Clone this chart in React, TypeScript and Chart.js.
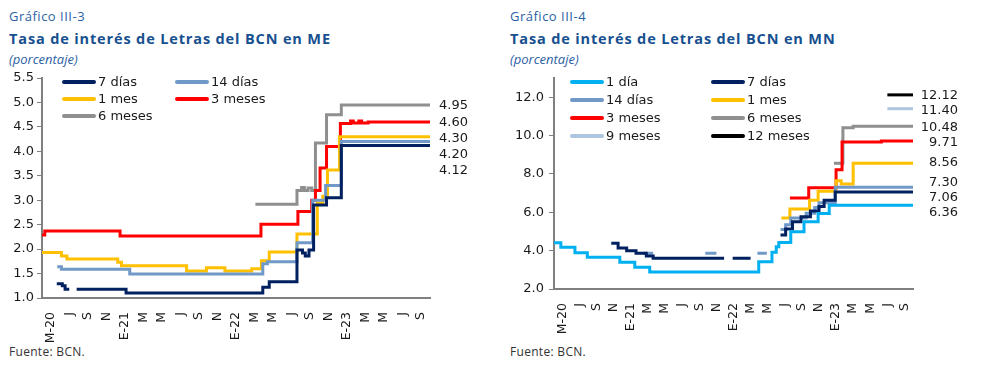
import React, { useEffect, useRef } from 'react';
import { Chart, registerables } from 'chart.js';

Chart.register(...registerables);

type Step = [number, number | null];

// Horizontal axis: months counted from April 2020 (0 = Apr-20 ... 42 = Oct-23)
const xMin = 0;
const xMax = 42;
const xTickMonths = [1, 3, 5, 7, 9, 11, 13, 15, 17, 19, 21, 23, 25, 27, 29, 31, 33, 35, 37, 39, 41];
const xTickLabels = ['M-20', 'J', 'S', 'N', 'E-21', 'M', 'M', 'J', 'S', 'N', 'E-22', 'M', 'M', 'J', 'S', 'N', 'E-23', 'M', 'M', 'J', 'S'];

// ---------- Gráfico III-3 (ME) ----------
const meLabels = ['7 días', '14 días', '1 mes', '3 meses', '6 meses'];
const meYTicks = [1.0, 1.5, 2.0, 2.5, 3.0, 3.5, 4.0, 4.5, 5.0, 5.5];
// [month, value] — value holds until next point; null ends a run
const me7Dias: Step[] = [[1.6, 1.29], [2.2, 1.25], [2.5, 1.18], [2.95, null], [3.75, 1.18], [9.1, 1.1], [23.9, 1.22], [24.6, 1.33], [27.6, 1.98], [28.2, 1.92], [28.5, 1.86], [28.9, 1.98], [29.4, 2.9], [30.8, 3.05], [32.4, 4.12], [42, null]];
const me14Dias: Step[] = [[1.65, 1.64], [2.1, 1.59], [9.5, 1.49], [23.9, 1.7], [24.4, 1.74], [27.6, 2.13], [29.3, 3.0], [30.7, 3.3], [32.4, 4.2], [42, null]];
const me1Mes: Step[] = [[0, 1.93], [2.1, 1.86], [2.7, 1.8], [8.2, 1.73], [8.6, 1.66], [15.65, 1.55], [17.8, 1.62], [19.8, 1.55], [22.7, 1.6], [23.75, 1.76], [24.6, 1.94], [27.6, 2.31], [29.8, 2.95], [30.4, 3.08], [30.9, 3.62], [32.2, 4.3], [42, null]];
const me3Meses: Step[] = [[0, 2.29], [0.3, 2.37], [8.45, 2.27], [23.7, 2.51], [27.7, 2.77], [29.2, 3.0], [29.6, 3.2], [30.1, 3.66], [30.8, 4.1], [32.3, 4.57], [33.4, 4.62], [33.7, 4.58], [34.3, 4.62], [34.6, 4.58], [35.3, 4.6], [42, null]];
const me6Meses: Step[] = [[23.1, 2.92], [27.6, 3.2], [28.1, 3.26], [28.4, 3.2], [28.8, 3.25], [29.2, 3.2], [29.6, 4.17], [30.8, 4.75], [32.4, 4.95], [42, null]];

// ---------- Gráfico III-4 (MN) ----------
const mnLabels = ['1 día', '7 días', '14 días', '1 mes', '3 meses', '6 meses', '9 meses', '12 meses'];
const mnYTicks = [2, 4, 6, 8, 10, 12];
const mn1Dia: Step[] = [[0, 4.41], [0.8, 4.18], [2.45, 3.89], [3.9, 3.65], [7.7, 3.39], [9.45, 3.14], [11.2, 2.88], [23.95, 3.42], [25.5, 3.92], [26.0, 4.2], [26.3, 4.42], [27.7, 4.98], [29.25, 5.5], [30.9, 5.94], [32.2, 6.36], [42, null]];
const mn7Dias: Step[] = [[6.7, 4.38], [7.5, 4.14], [8.5, 4.0], [9.6, 3.86], [10.8, 3.72], [11.6, 3.6], [19.9, null], [20.9, 3.6], [23.0, null], [26.5, 4.81], [27.1, 5.13], [27.9, 5.5], [28.9, 5.77], [30.0, 6.06], [31.0, 6.3], [31.6, 6.63], [32.9, 7.06], [42, null]];
const mn14Dias: Step[] = [[10.4, 3.86], [11.6, null], [17.7, 3.86], [19.0, null], [23.8, 3.86], [24.9, null], [26.5, 5.1], [27.1, 5.35], [27.7, 5.7], [29.5, 5.95], [30.5, 6.25], [31.0, 6.5], [32.9, 7.3], [42, null]];
const mn1Mes: Step[] = [[26.6, 5.7], [27.6, 6.17], [29.9, 6.63], [30.9, 7.1], [33.0, 7.64], [33.6, 7.47], [35.0, 8.56], [42, null]];
const mn3Meses: Step[] = [[27.6, 6.75], [29.8, 7.28], [33.0, 8.22], [33.7, 9.67], [38.3, 9.71], [42, null]];
const mn6Meses: Step[] = [[32.75, 8.55], [33.8, 10.4], [35.0, 10.48], [42, null]];
const mn9Meses: Step[] = [[39.0, 11.4], [42, null]];
const mn12Meses: Step[] = [[39.0, 12.12], [42, null]];

const C_NAVY = '#002060';
const C_STEEL = '#7099C8';
const C_YELLOW = '#FFC000';
const C_RED = '#FF0000';
const C_GRAY = '#8F8F8F';
const C_CYAN = '#00B0F0';
const C_PALE = '#AEC5E0';
const C_BLACK = '#000000';

const FONT = "'DejaVu Sans', Verdana, sans-serif";
const TXT = "'Open Sans', 'Noto Sans', sans-serif";

function toPoints(steps: Step[]) {
  const pts: { x: number; y: number | null }[] = [];
  let prev: number | null = null;
  for (const [x, y] of steps) {
    if (y === null) {
      if (prev !== null) pts.push({ x, y: prev });
      pts.push({ x, y: null });
      prev = null;
    } else {
      pts.push({ x, y });
      prev = y;
    }
  }
  return pts;
}

function lastValue(steps: Step[]) {
  for (let i = steps.length - 1; i >= 0; i--) if (steps[i][1] !== null) return steps[i][1] as number;
  return 0;
}

interface ChartCfg {
  left: number;
  top: number;
  width: number;
  height: number;
  padding: { left: number; right: number; top: number; bottom: number };
  yWidth: number;
  yMin: number;
  yMax: number;
  yTicks: number[];
  yLabelPad: number;
  series: { label: string; color: string; steps: Step[] }[];
  legendCols: number[];
  legendRowGap: number;
  labelGap: number;
  labelMode: 'down' | 'spread';
  labelOffset: number;
}

function StepChart({ cfg }: { cfg: ChartCfg }) {
  const ref = useRef<HTMLCanvasElement>(null);
  useEffect(() => {
    const legendPlugin = {
      id: 'stepLegend',
      afterDraw(chart: any) {
        const { ctx, chartArea } = chart;
        ctx.save();
        ctx.font = `13px ${FONT}`;
        ctx.textBaseline = 'middle';
        ctx.textAlign = 'left';
        chart.data.datasets.forEach((ds: any, i: number) => {
          const col = i % 2;
          const row = Math.floor(i / 2);
          const x = chartArea.left + cfg.legendCols[col];
          const y = chartArea.top + 4 + row * cfg.legendRowGap;
          ctx.strokeStyle = ds.borderColor;
          ctx.lineWidth = 4;
          ctx.lineCap = 'round';
          ctx.beginPath();
          ctx.moveTo(x + 2, y);
          ctx.lineTo(x + 32, y);
          ctx.stroke();
          ctx.fillStyle = '#1a1a1a';
          ctx.fillText(ds.label, x + 36, y + 1);
        });
        ctx.restore();
      },
    };
    const endLabelPlugin = {
      id: 'endLabels',
      afterDatasetsDraw(chart: any) {
        const { ctx, chartArea } = chart;
        const yScale = chart.scales.y;
        const items = chart.data.datasets
          .map((ds: any) => ({ v: ds.endValue as number, py: yScale.getPixelForValue(ds.endValue) }))
          .sort((a: any, b: any) => a.py - b.py);
        const n = items.length;
        const down = items.map((it: any) => it.py);
        for (let i = 1; i < n; i++) down[i] = Math.max(down[i], down[i - 1] + cfg.labelGap);
        const up = items.map((it: any) => it.py);
        for (let i = n - 2; i >= 0; i--) up[i] = Math.min(up[i], up[i + 1] - cfg.labelGap);
        ctx.save();
        ctx.font = `13px ${FONT}`;
        ctx.textBaseline = 'middle';
        ctx.textAlign = 'right';
        ctx.fillStyle = '#1a1a1a';
        items.forEach((it: any, i: number) => {
          const y = cfg.labelMode === 'down' ? down[i] : (down[i] + up[i]) / 2;
          ctx.fillText(it.v.toFixed(2), chartArea.right + cfg.labelOffset, y + 1);
        });
        ctx.restore();
      },
    };
    const chart = new Chart(ref.current as HTMLCanvasElement, {
      type: 'line',
      data: {
        datasets: cfg.series.map((s) => ({
          label: s.label,
          data: toPoints(s.steps) as any,
          borderColor: s.color,
          backgroundColor: s.color,
          borderWidth: 3,
          pointRadius: 0,
          stepped: true,
          fill: false,
          spanGaps: false,
          endValue: lastValue(s.steps),
        })) as any,
      },
      options: {
        animation: false,
        responsive: false,
        maintainAspectRatio: false,
        layout: { padding: cfg.padding },
        plugins: { legend: { display: false }, tooltip: { enabled: false } },
        scales: {
          x: {
            type: 'linear',
            min: xMin,
            max: xMax,
            grid: { display: false },
            border: { display: true, color: '#808080', width: 2 },
            ticks: {
              autoSkip: false,
              minRotation: 90,
              maxRotation: 90,
              padding: 6,
              color: '#1a1a1a',
              font: { family: FONT, size: 12.5 },
              callback: (_v: any, i: number) => xTickLabels[i],
            },
            afterBuildTicks: (s: any) => {
              s.ticks = xTickMonths.map((v) => ({ value: v }));
            },
            afterFit: (s: any) => {
              s.height = 50;
            },
          },
          y: {
            type: 'linear',
            min: cfg.yMin,
            max: cfg.yMax,
            grid: { display: true, drawOnChartArea: false, drawTicks: true, tickLength: 5, color: '#808080', lineWidth: 1 },
            border: { display: true, color: '#808080', width: 2 },
            ticks: {
              padding: cfg.yLabelPad,
              color: '#1a1a1a',
              font: { family: FONT, size: 13 },
              callback: (v: any) => Number(v).toFixed(1),
            },
            afterBuildTicks: (s: any) => {
              s.ticks = cfg.yTicks.map((v) => ({ value: v }));
            },
            afterFit: (s: any) => {
              s.width = cfg.yWidth;
            },
          },
        },
      } as any,
      plugins: [legendPlugin, endLabelPlugin],
    });
    return () => chart.destroy();
  }, []);
  return (
    <canvas
      ref={ref}
      width={cfg.width}
      height={cfg.height}
      style={{ position: 'absolute', left: cfg.left, top: cfg.top, width: cfg.width, height: cfg.height }}
    />
  );
}

const meCfg: ChartCfg = {
  left: 0,
  top: 60,
  width: 491,
  height: 300,
  padding: { left: 2, right: 61, top: 18, bottom: 12 },
  yWidth: 40,
  yMin: 1,
  yMax: 5.5,
  yTicks: meYTicks,
  yLabelPad: 3,
  series: [
    { label: meLabels[0], color: C_NAVY, steps: me7Dias },
    { label: meLabels[1], color: C_STEEL, steps: me14Dias },
    { label: meLabels[2], color: C_YELLOW, steps: me1Mes },
    { label: meLabels[3], color: C_RED, steps: me3Meses },
    { label: meLabels[4], color: C_GRAY, steps: me6Meses },
  ],
  legendCols: [20, 133],
  legendRowGap: 17,
  labelGap: 16,
  labelMode: 'down',
  labelOffset: 38,
};

const mnCfg: ChartCfg = {
  left: 491,
  top: 60,
  width: 492,
  height: 300,
  padding: { left: 13, right: 70, top: 18, bottom: 21 },
  yWidth: 50,
  yMin: 2,
  yMax: 13,
  yTicks: mnYTicks,
  yLabelPad: 5,
  series: [
    { label: mnLabels[0], color: C_CYAN, steps: mn1Dia },
    { label: mnLabels[1], color: C_NAVY, steps: mn7Dias },
    { label: mnLabels[2], color: C_STEEL, steps: mn14Dias },
    { label: mnLabels[3], color: C_YELLOW, steps: mn1Mes },
    { label: mnLabels[4], color: C_RED, steps: mn3Meses },
    { label: mnLabels[5], color: C_GRAY, steps: mn6Meses },
    { label: mnLabels[6], color: C_PALE, steps: mn9Meses },
    { label: mnLabels[7], color: C_BLACK, steps: mn12Meses },
  ],
  legendCols: [16, 157],
  legendRowGap: 18,
  labelGap: 15,
  labelMode: 'spread',
  labelOffset: 45,
};

function Header({ x, num, title }: { x: number; num: string; title: string }) {
  return (
    <>
      <div style={{ position: 'absolute', left: x, top: 8, fontFamily: TXT, fontSize: 13, letterSpacing: '0.5px', lineHeight: '17px', color: '#2B62A4', whiteSpace: 'nowrap' }}>
        {num}
      </div>
      <div style={{ position: 'absolute', left: x, top: 30, fontFamily: TXT, fontSize: 14.5, fontWeight: 700, lineHeight: '17px', letterSpacing: '0.86px', color: '#17508F', whiteSpace: 'nowrap' }}>
        {title}
      </div>
      <div style={{ position: 'absolute', left: x, top: 51, fontFamily: TXT, fontSize: 13, fontStyle: 'italic', lineHeight: '17px', color: '#2B62A4', whiteSpace: 'nowrap' }}>
        (porcentaje)
      </div>
      <div style={{ position: 'absolute', left: x, top: 344, fontFamily: TXT, fontSize: 12, letterSpacing: '0.3px', lineHeight: '16px', color: '#333', whiteSpace: 'nowrap' }}>
        Fuente: BCN.
      </div>
    </>
  );
}

export default function App() {
  return (
    <div style={{ position: 'absolute', left: 0, top: 0, width: 983, height: 370, background: '#fff', overflow: 'hidden' }}>
      <Header x={9} num="Gráfico III-3" title="Tasa de interés de Letras del BCN en ME" />
      <Header x={510} num="Gráfico III-4" title="Tasa de interés de Letras del BCN en MN" />
      <StepChart cfg={meCfg} />
      <StepChart cfg={mnCfg} />
    </div>
  );
}
